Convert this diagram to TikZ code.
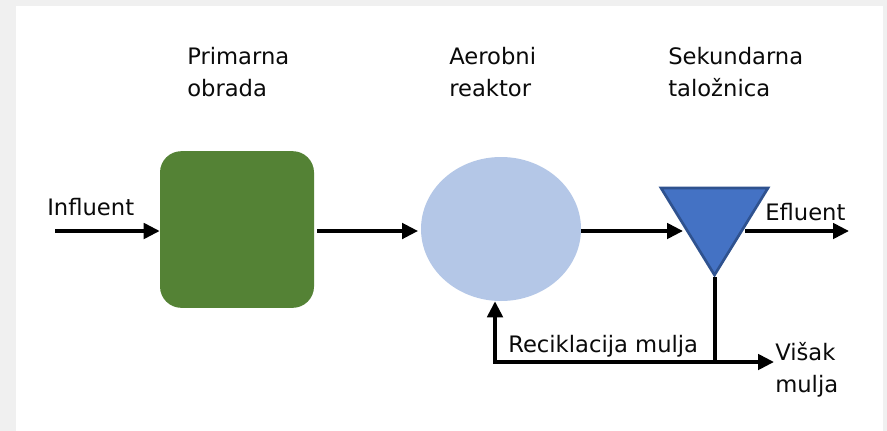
\documentclass[tikz,border=0pt]{standalone}
\usepackage{fontspec}
\setmainfont{DejaVu Sans}
\usetikzlibrary{shapes.geometric,arrows.meta}
\definecolor{bggray}{HTML}{F0F0F0}
\definecolor{boxgreen}{HTML}{548235}
\definecolor{reacblue}{HTML}{B4C7E7}
\definecolor{clarfill}{HTML}{4472C4}
\definecolor{clarline}{HTML}{2F528F}
\definecolor{txt}{HTML}{0A0A0A}
\begin{document}
\begin{tikzpicture}[x=0.75pt,y=-0.75pt,
  lbl/.style={anchor=base west, inner sep=0pt, font=\fontsize{17}{20}\selectfont, text=txt},
  arr/.style={line width=2.8pt, -{Triangle[length=12pt,width=11.5pt]}},
  plain/.style={line width=2.8pt}]
\fill[bggray] (0,0) rectangle (887,431);
\fill[white] (16,6) rectangle (883,431);
\useasboundingbox (0,0) rectangle (887,431);

% process units
\node[draw=none, fill=boxgreen, rounded corners=16pt, minimum width=115.5pt, minimum height=117.5pt, inner sep=0pt] (prim) at (237,229.5) {};
\node[ellipse, fill=reacblue, minimum width=120pt, minimum height=108pt, inner sep=0pt] (aer) at (501,229) {};
\draw[fill=clarfill, draw=clarline, line width=2pt, line join=miter] (661,188) -- (768,188) -- (714.5,275) -- cycle;
\coordinate (tl) at (683,231);
\coordinate (tr) at (745,231);
\coordinate (apex) at (715,277);

% labels
\node[lbl] (p1) at (187,65) {Primarna};
\node[lbl] (p2) at (187,97) {obrada};
\node[lbl] (a1) at (449,65) {Aerobni};
\node[lbl] (a2) at (449,97) {reaktor};
\node[lbl] (s1) at (668,65) {Sekundarna};
\node[lbl] (s2) at (668,97) {taložnica};
\node[lbl] (inf) at (47,215) {Influent};
\node[lbl] (eff) at (765,220) {Efluent};
\node[lbl] (rec) at (508,352) {Reciklacija mulja};
\node[lbl] (w1) at (775,360) {Višak};
\node[lbl] (w2) at (775,392) {mulja};

% connectors
\coordinate (inS) at (55,231);
\coordinate (effE) at (849,231);
\coordinate (jn) at (715,362);
\coordinate (rl) at (495,362);
\coordinate (wE) at (774,362);
\draw[arr] (inS) -- (inS -| prim.west);
\draw[arr] ([xshift=2pt]inS -| prim.east) -- ([xshift=-2pt]inS -| aer.west);
\draw[arr] (inS -| aer.east) -- (tl);
\draw[arr] (tr) -- (effE);
\draw[plain] (apex) -- (jn);
\draw[arr] (jn) -- (wE);
\draw[arr, line join=miter] (jn) -- (rl) -- (rl |- aer.south);
\end{tikzpicture}
\end{document}
